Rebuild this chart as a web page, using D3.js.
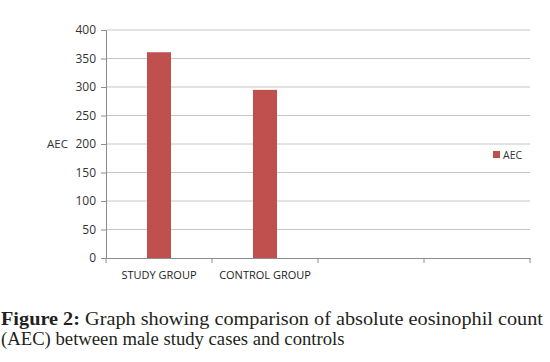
<!DOCTYPE html>
<html>
<head>
<meta charset="utf-8">
<script src="https://cdn.jsdelivr.net/npm/d3@7"></script>
<style>
  body { margin: 0; background: #fff; }
  svg { display: block; }
</style>
</head>
<body>
<svg id="chart" width="550" height="362"></svg>
<script>
// chart data
const categories = ["STUDY GROUP", "CONTROL GROUP", "", " "];
const aecValues = [361, 295, null, null];
const yTicks = [0, 50, 100, 150, 200, 250, 300, 350, 400];
const seriesName = "AEC";

const barColor = "#c0504d";
const svg = d3.select("#chart");

const plot = { left: 106, right: 530, top: 30, bottom: 258 };

const x = d3.scaleBand()
    .domain(categories)
    .range([plot.left, plot.right]);

const y = d3.scaleLinear()
    .domain([0, 400])
    .range([plot.bottom, plot.top]);

// gridlines
svg.append("g")
    .selectAll("line")
    .data(yTicks.filter(d => d > 0))
    .join("line")
    .attr("x1", plot.left)
    .attr("x2", plot.right)
    .attr("y1", d => y(d))
    .attr("y2", d => y(d))
    .attr("stroke", "#c6c6c6")
    .attr("stroke-width", 1);

// y axis
const yAxis = svg.append("g")
    .attr("transform", "translate(" + plot.left + ",0)")
    .call(d3.axisLeft(y).tickValues(yTicks).tickSize(5).tickPadding(5));
yAxis.select(".domain").attr("stroke", "#8c8c8c");
yAxis.selectAll(".tick line").attr("stroke", "#8c8c8c");
yAxis.selectAll(".tick text")
    .attr("fill", "#333")
    .style("font-family", "'Open Sans', sans-serif")
    .style("font-size", "12px");

// x axis
const xAxis = svg.append("g")
    .attr("transform", "translate(0," + plot.bottom + ")")
    .call(d3.axisBottom(x).tickSize(0).tickPadding(13));
xAxis.select(".domain").attr("stroke", "#8c8c8c");
xAxis.selectAll(".tick text")
    .attr("fill", "#222")
    .style("font-family", "'Open Sans', sans-serif")
    .style("font-size", "11px");

// category boundary ticks
svg.append("g")
    .selectAll("line")
    .data(categories.concat(["end"]))
    .join("line")
    .attr("x1", (d, i) => plot.left + i * x.step())
    .attr("x2", (d, i) => plot.left + i * x.step())
    .attr("y1", plot.bottom)
    .attr("y2", plot.bottom + 5)
    .attr("stroke", "#8c8c8c");

// bars
const barW = 24;
svg.append("g")
    .selectAll("rect")
    .data(categories.map((c, i) => ({ cat: c, v: aecValues[i] })).filter(d => d.v != null))
    .join("rect")
    .attr("x", d => x(d.cat) + x.bandwidth() / 2 - barW / 2)
    .attr("y", d => y(d.v))
    .attr("width", barW)
    .attr("height", d => y(0) - y(d.v))
    .attr("fill", barColor);

// y axis title
svg.append("text")
    .attr("x", 47)
    .attr("y", y(200))
    .attr("dy", "0.32em")
    .attr("fill", "#333")
    .style("font-family", "'Open Sans', sans-serif")
    .style("font-size", "11.5px")
    .text(seriesName);

// legend
svg.append("rect")
    .attr("x", 493)
    .attr("y", 151)
    .attr("width", 7)
    .attr("height", 7)
    .attr("fill", barColor);
svg.append("text")
    .attr("x", 503)
    .attr("y", 155)
    .attr("dy", "0.35em")
    .attr("fill", "#333")
    .style("font-family", "'Open Sans', sans-serif")
    .style("font-size", "10.5px")
    .text(seriesName);

// caption
const cap = svg.append("g")
    .style("font-family", "'Liberation Serif', serif")
    .style("font-size", "18.7px")
    .attr("fill", "#231f20");
const line1 = cap.append("text")
    .attr("x", 1)
    .attr("y", 325)
    .attr("textLength", 542)
    .attr("lengthAdjust", "spacingAndGlyphs");
line1.append("tspan").style("font-weight", "bold").text("Figure 2:");
line1.append("tspan").text(" Graph showing comparison of absolute eosinophil count");
cap.append("text")
    .attr("x", 1)
    .attr("y", 345)
    .text("(AEC) between male study cases and controls");
</script>
</body>
</html>
